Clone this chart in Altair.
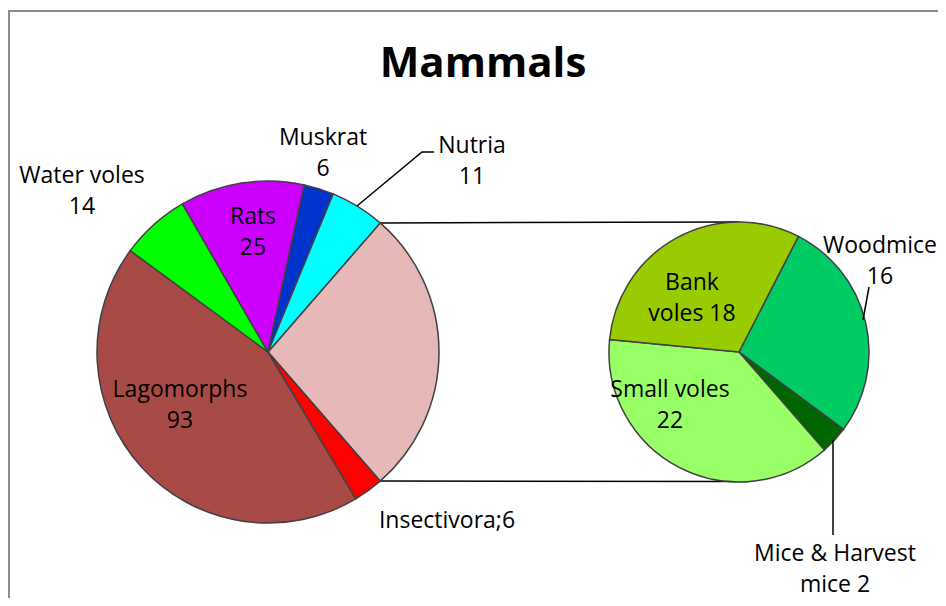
import math
import altair as alt
import pandas as pd

# ---------------- data ----------------
main_names = ["Other", "Insectivora", "Lagomorphs", "Water voles", "Rats", "Muskrat", "Nutria"]
main_values = [58, 6, 93, 14, 25, 6, 11]
main_colors = ["#E6B8B7", "#FF0000", "#A84A46", "#00FF00", "#CC00FF", "#0033CC", "#00FFFF"]

sub_names = ["Woodmice", "Mice & Harvest mice", "Small voles", "Bank voles"]
sub_values = [16, 2, 22, 18]
sub_colors = ["#00CC66", "#006600", "#99FF66", "#99CC00"]

label_texts = ["Water voles\n14", "Rats\n25", "Muskrat\n6", "Nutria\n11", "Lagomorphs\n93",
               "Insectivora;6", "Bank\nvoles 18", "Woodmice\n16", "Small voles\n22",
               "Mice & Harvest\nmice 2"]

# ---------------- layout ----------------
W, H = 930, 590
FONT = "Open Sans"
C1 = (260, 344); R1 = 171
C2 = (731, 344); R2 = 130
main_total = sum(main_values)
other_span = 2 * math.pi * main_values[0] / main_total
start1 = math.pi / 2 - other_span / 2
start2 = math.radians(27.2)

# first-line centre of each label
label_pos = [(74, 168), (245, 209), (315, 130), (464, 138), (172, 382),
             (439, 513), (684, 275), (872, 238), (662, 382), (827, 546)]

main_df = pd.DataFrame({"name": main_names, "value": main_values,
                        "color": main_colors, "idx": range(len(main_names))})
sub_df = pd.DataFrame({"name": sub_names, "value": sub_values,
                       "color": sub_colors, "idx": range(len(sub_names))})


def pie(df, center, radius, start):
    return alt.Chart(df).mark_arc(radius=radius, stroke="#404040", strokeWidth=1.5).encode(
        theta=alt.Theta("value:Q", stack=True,
                        scale=alt.Scale(range=[start, start + 2 * math.pi])),
        order=alt.Order("idx:Q"),
        color=alt.Color("color:N", scale=None, legend=None),
        x=alt.value(center[0]),
        y=alt.value(center[1]),
    )


main_pie = pie(main_df, C1, R1, start1)
sub_pie = pie(sub_df, C2, R2, start2)

# connector lines from the "Other" slice edges to the second pie top / bottom
a_top = start1
a_bot = start1 + other_span
seg_rows = [
    dict(x=C1[0] + R1 * math.sin(a_top), y=C1[1] - R1 * math.cos(a_top), x2=C2[0], y2=C2[1] - R2, g="top"),
    dict(x=C1[0] + R1 * math.sin(a_bot), y=C1[1] - R1 * math.cos(a_bot), x2=C2[0] + 10, y2=C2[1] + R2 - 0.5, g="bot"),
]
# leader lines
leaders = [
    [(349, 198), (414, 144), (426, 144)],   # Nutria
    [(855, 312), (861, 279)],               # Woodmice
    [(825, 432), (825, 527)],               # Mice & Harvest mice
]
lead_rows = []
for gi, pts in enumerate(leaders):
    for oi, (px, py) in enumerate(pts):
        lead_rows.append(dict(px=px, py=py, g=gi, o=oi))

conn = alt.Chart(pd.DataFrame(seg_rows)).mark_rule(color="black", strokeWidth=1.5).encode(
    x=alt.X("x:Q", scale=None, axis=None), y=alt.Y("y:Q", scale=None, axis=None),
    x2="x2:Q", y2="y2:Q")

lead = alt.Chart(pd.DataFrame(lead_rows)).mark_line(color="black", strokeWidth=1.5).encode(
    x=alt.X("px:Q", scale=None, axis=None), y=alt.Y("py:Q", scale=None, axis=None),
    detail="g:N", order="o:Q")

lab_df = pd.DataFrame({"t": label_texts,
                       "lx": [p[0] for p in label_pos], "ly": [p[1] for p in label_pos]})
labels = alt.Chart(lab_df).mark_text(font=FONT, fontSize=23, color="black",
                                     lineBreak="\n", lineHeight=31,
                                     align="center", baseline="middle").encode(
    x=alt.X("lx:Q", scale=None, axis=None), y=alt.Y("ly:Q", scale=None, axis=None), text="t:N")

title = alt.Chart(pd.DataFrame({"t": ["Mammals"]})).mark_text(
    font=FONT, fontSize=42, fontWeight="bold", color="black",
    align="center", baseline="middle").encode(
    x=alt.value(475), y=alt.value(56), text="t:N")

border = alt.Chart(pd.DataFrame({"d": [0]})).mark_rect(
    fillOpacity=0, stroke="#8C8C8C", strokeWidth=2).encode(
    x=alt.value(1), y=alt.value(3), x2=alt.value(1200), y2=alt.value(1000))

chart = alt.layer(border, conn, main_pie, sub_pie, lead, labels, title).resolve_scale(
    theta="independent").properties(
    width=W, height=H, autosize=alt.AutoSizeParams(type="none"), padding=0
).configure_view(stroke=None)

chart.save("out.html", embed_options={"renderer": "svg", "actions": False})
